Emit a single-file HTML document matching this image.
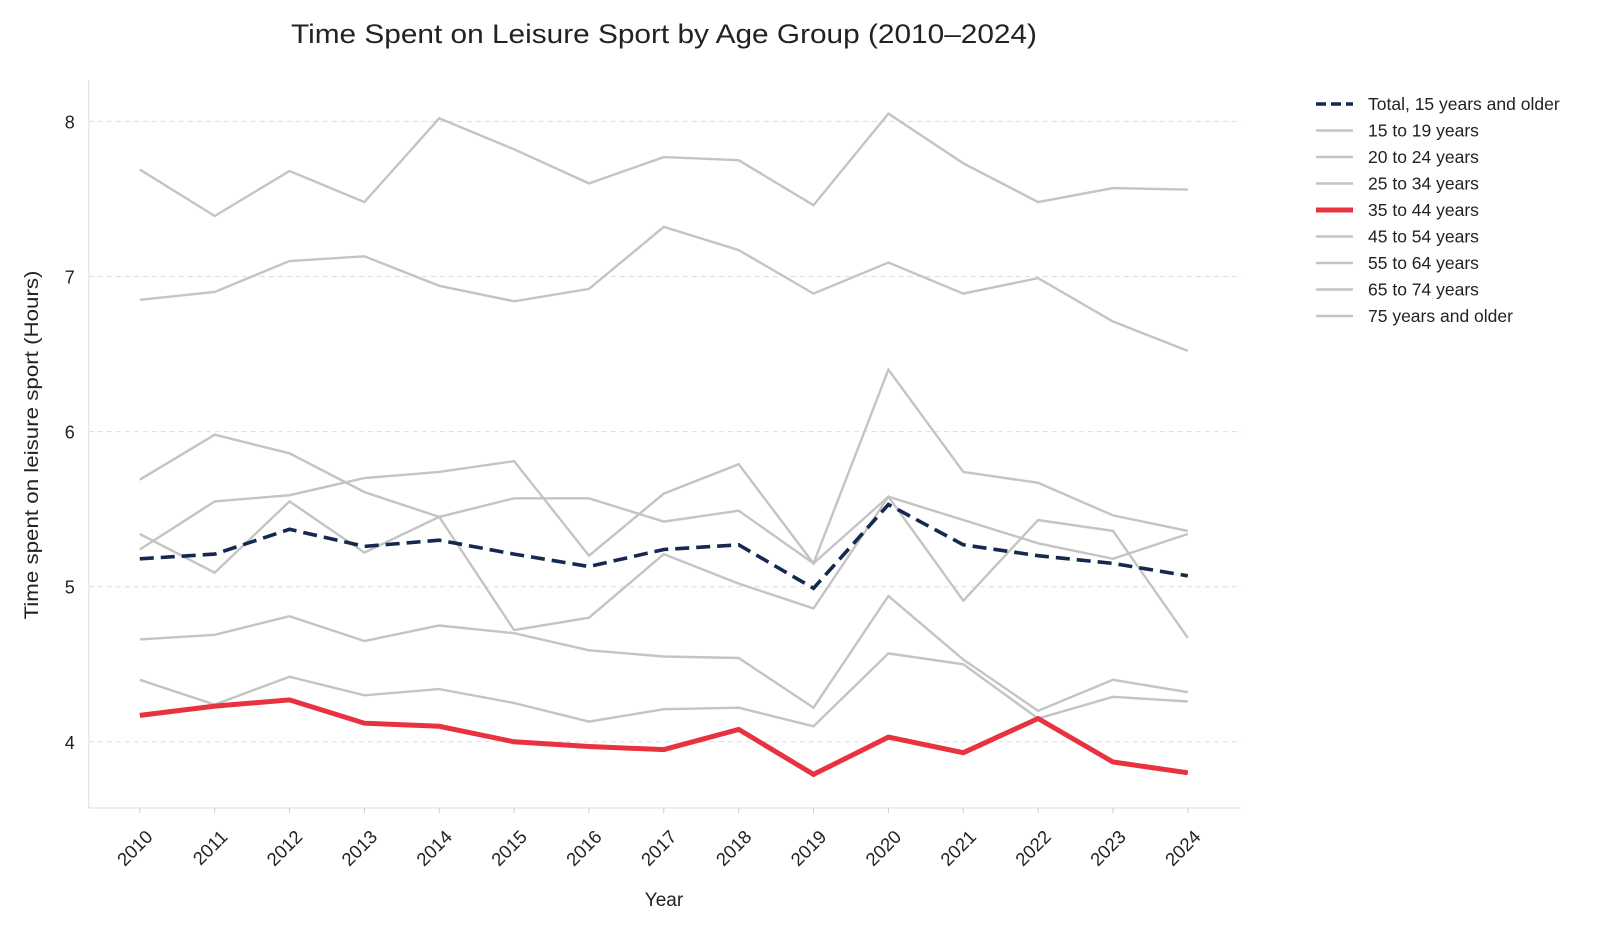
<!DOCTYPE html>
<html><head><meta charset="utf-8">
<style>
html,body{margin:0;padding:0;background:#fff;}
svg{display:block;font-family:"Liberation Sans",sans-serif;}
</style></head>
<body>
<svg id="chart" width="1600" height="933" viewBox="0 0 1600 933">
<text x="664" y="43" text-anchor="middle" font-size="27" textLength="746" lengthAdjust="spacingAndGlyphs" fill="#222">Time Spent on Leisure Sport by Age Group (2010–2024)</text>
<g id="grid"></g>
<g id="axes"></g>
<g id="series"></g>
<g id="legend"></g>
<text x="664" y="906" text-anchor="middle" font-size="19" fill="#222">Year</text>
<text transform="translate(38,445) rotate(-90)" text-anchor="middle" font-size="19" textLength="349" lengthAdjust="spacingAndGlyphs" fill="#222">Time spent on leisure sport (Hours)</text>
</svg>
<script>
const years = [2010,2011,2012,2013,2014,2015,2016,2017,2018,2019,2020,2021,2022,2023,2024];
const yTicks = [4,5,6,7,8];
const seriesNames = ["Total, 15 years and older","15 to 19 years","20 to 24 years","25 to 34 years","35 to 44 years","45 to 54 years","55 to 64 years","65 to 74 years","75 years and older"];
const total = [5.18,5.21,5.37,5.26,5.30,5.21,5.13,5.24,5.27,4.99,5.53,5.27,5.20,5.15,5.07];
const age15to19 = [7.69,7.39,7.68,7.48,8.02,7.82,7.60,7.77,7.75,7.46,8.05,7.73,7.48,7.57,7.56];
const age20to24 = [6.85,6.90,7.10,7.13,6.94,6.84,6.92,7.32,7.17,6.89,7.09,6.89,6.99,6.71,6.52];
const age25to34 = [5.24,5.55,5.59,5.70,5.74,5.81,5.20,5.60,5.79,5.15,6.40,5.74,5.67,5.46,5.36];
const age35to44 = [4.17,4.23,4.27,4.12,4.10,4.00,3.97,3.95,4.08,3.79,4.03,3.93,4.15,3.87,3.80];
const age45to54 = [5.69,5.98,5.86,5.61,5.45,4.72,4.80,5.21,5.02,4.86,5.58,4.91,5.43,5.36,4.67];
const age55to64 = [5.34,5.09,5.55,5.22,5.45,5.57,5.57,5.42,5.49,5.15,5.58,5.43,5.28,5.18,5.34];
const age65to74 = [4.66,4.69,4.81,4.65,4.75,4.70,4.59,4.55,4.54,4.22,4.94,4.53,4.20,4.40,4.32];
const age75plus = [4.40,4.24,4.42,4.30,4.34,4.25,4.13,4.21,4.22,4.10,4.57,4.50,4.15,4.29,4.26];

const NS="http://www.w3.org/2000/svg";
const X0=139.8, XSTEP=74.86, Y8=121.4, YUNIT=155.1;
const L=88.8, R=1241, T=80, B=808;
function xs(i){return X0+i*XSTEP;}
function ys(v){return Y8+(8-v)*YUNIT;}
function mk(tag,attrs,parent){const e=document.createElementNS(NS,tag);for(const k in attrs)e.setAttribute(k,attrs[k]);parent.appendChild(e);return e;}

const grid=document.getElementById('grid'), axes=document.getElementById('axes'), ser=document.getElementById('series'), leg=document.getElementById('legend');
yTicks.forEach(t=>{
  const g=mk('line',{x1:L,x2:R,y1:ys(t),y2:ys(t),stroke:'#dddddd','stroke-width':1,'stroke-dasharray':'5,4'},grid);
  
  
  const tx=mk('text',{x:L-14,y:ys(t)+7,'text-anchor':'end','font-size':18,fill:'#222'},axes);
  tx.textContent=t;
  
  
});
const sp1=mk('line',{x1:L,x2:L,y1:T,y2:B,stroke:'#ddd','stroke-width':1},axes);


const sp2=mk('line',{x1:L,x2:R,y1:B,y2:B,stroke:'#ddd','stroke-width':1},axes);


years.forEach((yr,i)=>{
  const x=xs(i);
  const tk=mk('line',{x1:x,x2:x,y1:B,y2:B+5,stroke:'#ccc'},axes);
  
  
  const ax=x+14, ay=B+30;
  const tx=mk('text',{x:ax,y:ay,'text-anchor':'end','font-size':18.5,fill:'#222',transform:`rotate(-45 ${ax} ${ay})`},axes);
  tx.textContent=yr;
  
  
});
const grayData=[age15to19,age20to24,age25to34,age45to54,age55to64,age65to74,age75plus];
const grayNames=[seriesNames[1],seriesNames[2],seriesNames[3],seriesNames[5],seriesNames[6],seriesNames[7],seriesNames[8]];
function pts(arr){return arr.map((v,i)=>xs(i).toFixed(1)+','+ys(v).toFixed(1)).join(' ');}
grayData.forEach((arr,k)=>{
  const p=mk('polyline',{points:pts(arr),fill:'none',stroke:'#c4c4c4','stroke-width':2.4,'stroke-linejoin':'miter'},ser);
  
  
});
const red=mk('polyline',{points:pts(age35to44),fill:'none',stroke:'#e8323f','stroke-width':5,'stroke-linejoin':'miter'},ser);


const tot=mk('polyline',{points:pts(total),fill:'none',stroke:'#152850','stroke-width':3.6,'stroke-dasharray':'14,7'},ser);



seriesNames.forEach((n,i)=>{
  const y=104+i*26.5;
  let st={stroke:'#c4c4c4','stroke-width':2.4};
  if(i===0) st={stroke:'#152850','stroke-width':3.6,'stroke-dasharray':'10,5'};
  if(i===4) st={stroke:'#e8323f','stroke-width':5};
  const ln=mk('line',Object.assign({x1:1316,x2:1353,y1:y,y2:y},st),leg);
  
  
  const tx=mk('text',{x:1368,y:y+6,'font-size':17.5,fill:'#222'},leg);
  tx.textContent=n;
  
  
});
</script>
</body></html>
